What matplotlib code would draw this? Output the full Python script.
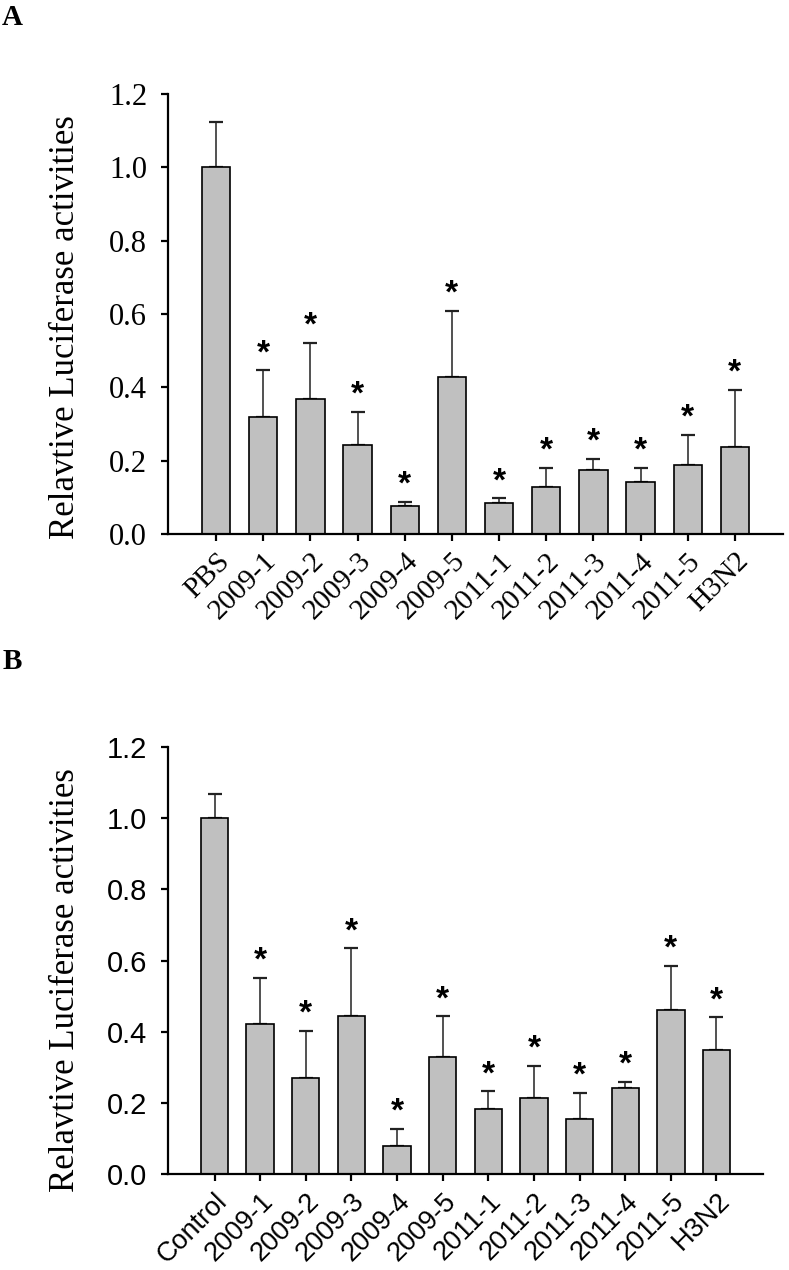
import numpy as np
import matplotlib
matplotlib.use('Agg')
import matplotlib.pyplot as plt

# data
groups_a = ['PBS', '2009-1', '2009-2', '2009-3', '2009-4', '2009-5',
            '2011-1', '2011-2', '2011-3', '2011-4', '2011-5', 'H3N2']
mean_a = [1.0, 0.319, 0.369, 0.244, 0.077, 0.429, 0.084, 0.129, 0.175, 0.142, 0.188, 0.236]
sd_a = [0.124, 0.127, 0.152, 0.089, 0.011, 0.179, 0.013, 0.051, 0.029, 0.038, 0.082, 0.158]
star_a = [False] + [True] * 11

groups_b = ['Control', '2009-1', '2009-2', '2009-3', '2009-4', '2009-5',
            '2011-1', '2011-2', '2011-3', '2011-4', '2011-5', 'H3N2']
mean_b = [1.0, 0.422, 0.271, 0.445, 0.079, 0.330, 0.182, 0.214, 0.154, 0.242, 0.460, 0.349]
sd_b = [0.069, 0.129, 0.131, 0.189, 0.047, 0.113, 0.050, 0.090, 0.075, 0.016, 0.124, 0.091]
star_b = [False] + [True] * 11

yticks = [0.0, 0.2, 0.4, 0.6, 0.8, 1.0, 1.2]
ylab = 'Relavtive Luciferase activities'

SERIF = 'Liberation Serif'
SANS = 'Liberation Sans'

W, H = 789, 1270
fig = plt.figure(figsize=(W / 100, H / 100), dpi=100)


def panel(rect, groups, mean, sd, star, tickfont, ysize, xsize, label_y):
    ax = fig.add_axes(rect)
    x = np.arange(len(groups))
    ax.bar(x, mean, width=0.6, color='#c0c0c0', edgecolor='black', linewidth=1.2, zorder=2)
    ax.errorbar(x, mean, yerr=[np.zeros(len(sd)), sd], fmt='none', ecolor='#222222',
                elinewidth=1.1, capsize=4.8, capthick=1.6, zorder=1)
    for xi, m, s, st in zip(x, mean, sd, star):
        if st:
            ax.annotate('*', (xi, m + s), xytext=(0, 12), textcoords='offset points',
                        ha='center', va='center', fontsize=24, fontweight='bold',
                        family=SANS)
    ax.set_xlim(-1.02, len(groups) + 0.02)
    ax.set_ylim(0, 1.2)
    ax.set_yticks(yticks)
    ax.set_yticklabels(['%.1f' % v for v in yticks], family=tickfont, fontsize=ysize)
    ax.set_xticks(x)
    ax.set_xticklabels(groups, rotation=45, ha='right', rotation_mode='anchor',
                       family=tickfont, fontsize=xsize)
    for side in ['top', 'right']:
        ax.spines[side].set_visible(False)
    for side in ['left', 'bottom']:
        ax.spines[side].set_linewidth(1.6)
    ax.tick_params(axis='y', direction='out', length=5, width=1.6, pad=10)
    ax.tick_params(axis='x', direction='out', length=5, width=1.6, pad=5)
    fig.text(66 / W, 1 - label_y / H, ylab, rotation=90, ha='center', va='center',
             family=SERIF, fontsize=25)
    return ax


panel([168 / W, 1 - 534 / H, (783 - 168) / W, 440 / H],
      groups_a, mean_a, sd_a, star_a, SERIF, 22, 21, 327)
panel([168 / W, 1 - 1174 / H, (763 - 168) / W, 427 / H],
      groups_b, mean_b, sd_b, star_b, SANS, 21, 19.5, 980)

fig.text(2 / W, 1 - 4 / H, 'A', ha='left', va='top', family=SERIF, fontweight='bold', fontsize=21)
fig.text(3 / W, 1 - 648 / H, 'B', ha='left', va='top', family=SERIF, fontweight='bold', fontsize=21)

fig.savefig('out.png', dpi=100)
